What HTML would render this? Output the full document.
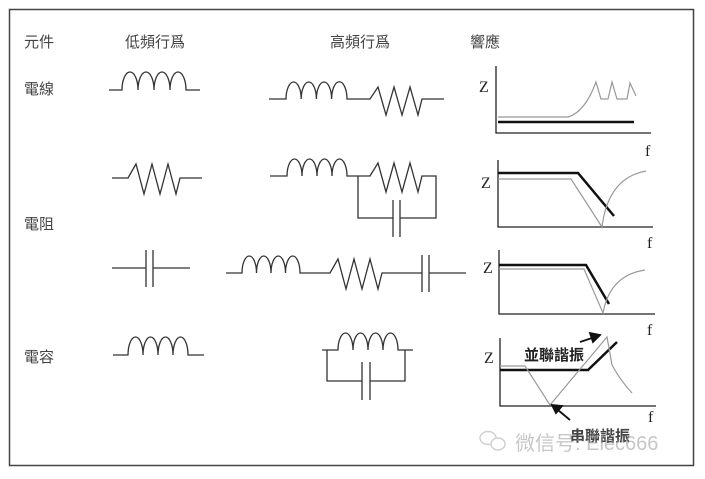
<!DOCTYPE html>
<html><head><meta charset="utf-8"><style>
html,body{margin:0;padding:0;background:#fff;}
svg{display:block;}
text{font-family:"Liberation Sans","Noto Sans CJK TC",sans-serif;}
</style></head><body>
<svg width="705" height="479" viewBox="0 0 705 479" xmlns="http://www.w3.org/2000/svg">
<rect x="9.5" y="9.5" width="684" height="456" fill="#fff" stroke="#444" stroke-width="1.5"/>
<g font-size="15" fill="#444">
<text x="24" y="47">元件</text>
<text x="125" y="47">低頻行爲</text>
<text x="330" y="47">高頻行爲</text>
<text x="470" y="47">響應</text>
<text x="24" y="94">電線</text>
<text x="24" y="229">電阻</text>
<text x="24" y="362">電容</text>
</g>
<g fill="none" stroke="#333" stroke-width="1.3">
<path d="M109 90 H122 A8 18 0 0 1 138 90 A8 18 0 0 1 154 90 A8 18 0 0 1 170 90 A8 18 0 0 1 186 90 H200"/>
<path d="M112 178 H128 L136 164 L144 194 L152 164 L160 194 L168 164 L176 194 L180 178 H202"/>
<path d="M112 268 H146 M146 250 V287 M153 250 V287 M153 268 H190"/>
<path d="M113 355 H128 A7.5 18 0 0 1 143 355 A7.5 18 0 0 1 158 355 A7.5 18 0 0 1 173 355 A7.5 18 0 0 1 188 355 H204"/>
<path d="M269 99 H286 A7.6 17 0 0 1 301.2 99 A7.6 17 0 0 1 316.4 99 A7.6 17 0 0 1 331.6 99 A7.6 17 0 0 1 347 99 H370 L378 87 L386 115 L394 87 L402 115 L410 87 L418 115 L422 99 H444"/>
<path d="M270 176 H287 A7.5 17 0 0 1 302 176 A7.5 17 0 0 1 317 176 A7.5 17 0 0 1 332 176 A7.5 17 0 0 1 347 176 H370 L378 163 L386 192 L394 163 L402 192 L410 163 L418 192 L422 176 H436 V218 H400 M393 218 H358 V176 M393 200 V237 M400 200 V237"/>
<path d="M226 273 H242 A7.25 17 0 0 1 256.5 273 A7.25 17 0 0 1 271 273 A7.25 17 0 0 1 285.5 273 A7.25 17 0 0 1 300 273 H330 L338 259 L346 289 L354 259 L362 289 L370 259 L378 289 L382 273 H422 M422 255 V292 M429 255 V292 M429 273 H466"/>
<path d="M322 350 H338 A7.5 17 0 0 1 353 350 A7.5 17 0 0 1 368 350 A7.5 17 0 0 1 383 350 A7.5 17 0 0 1 398 350 H413 M327 350 V381 H362 M362 362 V400 M370 362 V400 M370 381 H405 V350"/>
</g>
<g fill="none" stroke="#222" stroke-width="1.3">
<path d="M496 66 V133 H651"/>
<path d="M498 160 V227 H653"/>
<path d="M499 250 V314 H655"/>
<path d="M500 338 V406 H656"/>
</g>
<g fill="none" stroke="#111" stroke-width="2.5">
<path d="M498 122 H634"/>
<path d="M498 173 H578 L614 216"/>
<path d="M499 265 H586 L609 304"/>
<path d="M500 370 H588 L617 342"/>
</g>
<g fill="none" stroke="#999" stroke-width="1.2">
<path d="M498 117 H568 Q585 112 596 82 L601 99 H608 L612 82 L617 99 H627 L630 83 L636 96"/>
<path d="M498 179 H571 L602 227 Q608 178 646 171"/>
<path d="M499 269 H584 L603 313 Q610 275 645 270"/>
<path d="M500 366 H525 L550 405 L607 337 L612 365 Q620 380 632 393"/>
</g>
<g fill="#222" font-size="16">
<text x="479" y="92" style="font-family:'Liberation Serif',serif">Z</text>
<text x="645" y="156" style="font-family:'Liberation Serif',serif">f</text>
<text x="481" y="188" style="font-family:'Liberation Serif',serif">Z</text>
<text x="647" y="248" style="font-family:'Liberation Serif',serif">f</text>
<text x="483" y="273" style="font-family:'Liberation Serif',serif">Z</text>
<text x="647" y="335" style="font-family:'Liberation Serif',serif">f</text>
<text x="484" y="363" style="font-family:'Liberation Serif',serif">Z</text>
<text x="648" y="422" style="font-family:'Liberation Serif',serif">f</text>
</g>
<text x="524" y="360" font-size="15" font-weight="bold" fill="#222">並聯諧振</text>
<g stroke="#111" stroke-width="1.8" fill="#111">
<path d="M580 342 L592 338" fill="none"/><path d="M600 335 L590 333 L593 342 Z"/>
<path d="M570 420 L558 410" fill="none"/><path d="M552 405 L562 406 L556 413 Z"/>
</g>
<text x="570" y="441" font-size="15" font-weight="bold" fill="#444">串聯諧振</text>
<g opacity="0.55">
<ellipse cx="488" cy="438" rx="8" ry="6.5" fill="none" stroke="#aaa" stroke-width="1.5"/>
<ellipse cx="498" cy="444" rx="7" ry="6" fill="#fff" stroke="#aaa" stroke-width="1.5"/>
<text x="515" y="450" font-size="20" fill="#999">微信号: Elec666</text>
</g>
</svg>
</body></html>
